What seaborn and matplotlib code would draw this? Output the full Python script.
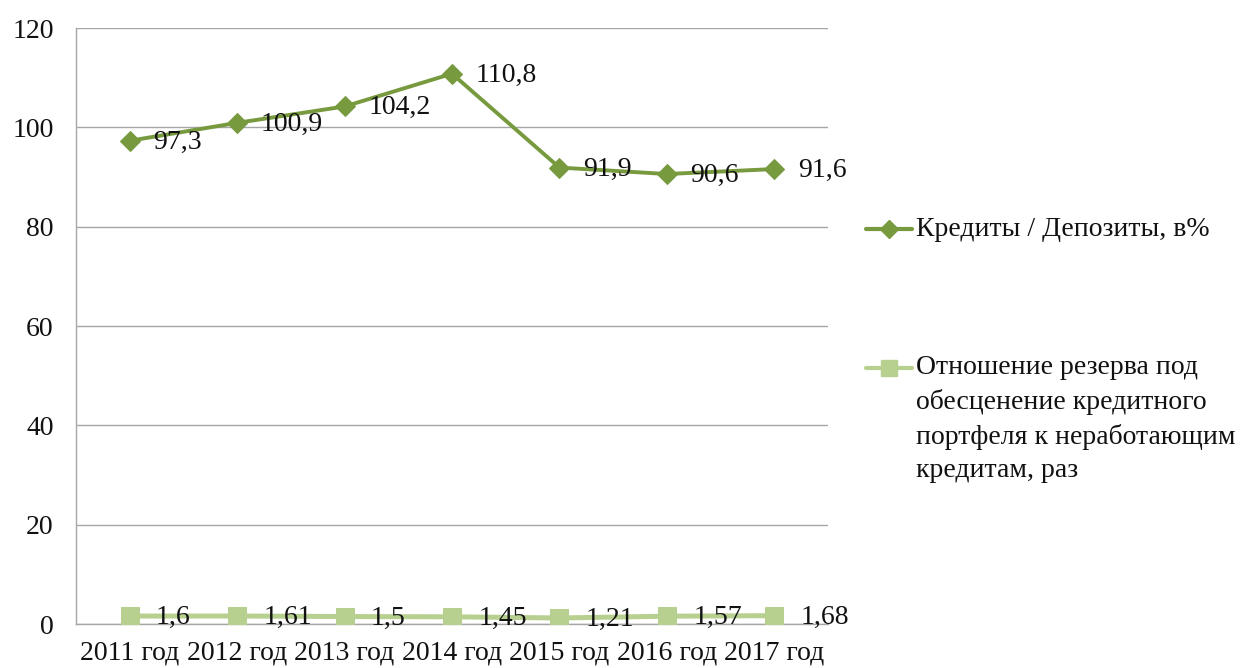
import matplotlib
matplotlib.use("Agg")
import matplotlib.pyplot as plt
from matplotlib.lines import Line2D
import seaborn as sns
import pandas as pd
import numpy as np

years = ["2011 год", "2012 год", "2013 год", "2014 год", "2015 год", "2016 год", "2017 год"]
loans_deposits = [97.3, 100.9, 104.2, 110.8, 91.9, 90.6, 91.6]
reserve_ratio = [1.6, 1.61, 1.5, 1.45, 1.21, 1.57, 1.68]
labels1 = ["97,3", "100,9", "104,2", "110,8", "91,9", "90,6", "91,6"]
labels2 = ["1,6", "1,61", "1,5", "1,45", "1,21", "1,57", "1,68"]
name1 = "Кредиты / Депозиты, в%"
name2_lines = ["Отношение резерва под", "обесценение кредитного",
               "портфеля к неработающим", "кредитам, раз"]

sns.set_theme(style="white")
plt.rcParams['font.family'] = ['Liberation Serif', 'DejaVu Serif']

c1 = "#789A3F"
c2 = "#B8D08F"
FS = 20
TXT = "#111111"

fig = plt.figure(figsize=(12.51, 6.68), dpi=100)
ax = fig.add_axes([76/1251, 1 - 624/668, (828-76)/1251, (624-28)/668])

x = np.arange(len(years))
df1 = pd.DataFrame({"x": x, "y": loans_deposits})
df2 = pd.DataFrame({"x": x, "y": reserve_ratio})
sns.lineplot(data=df1, x="x", y="y", ax=ax, color=c1, linewidth=2.8,
             marker="D", markersize=10, markeredgecolor=c1, zorder=4)
sns.lineplot(data=df2, x="x", y="y", ax=ax, color=c2, linewidth=3.6,
             marker="s", markersize=13, markeredgecolor=c2, zorder=3)

for xi, yi, t in zip(x, loans_deposits, labels1):
    ax.annotate(t, (xi, yi), xytext=(17, -1), textcoords="offset points",
                ha="left", va="center", fontsize=FS, color=TXT, zorder=5)
for xi, yi, t in zip(x, reserve_ratio, labels2):
    ax.annotate(t, (xi, yi), xytext=(19, -1), textcoords="offset points",
                ha="left", va="center", fontsize=FS, color=TXT, zorder=5)

ax.set_xlim(-0.5, 6.5)
ax.set_ylim(0, 120)
ax.set_yticks(range(0, 121, 20))
ax.set_xticks(x)
ax.set_xticklabels(years, fontsize=FS, color=TXT)
for lbl in ax.get_yticklabels():
    lbl.set_color(TXT)
ax.tick_params(axis="y", labelsize=FS, length=6, color="#A6A6A6", width=1, pad=10)
ax.tick_params(axis="x", length=0, pad=12)
ax.set_xlabel("")
ax.set_ylabel("")
ax.grid(axis="y", color="#A6A6A6", linewidth=1)
ax.grid(axis="x", visible=False)
for s in ["top", "right"]:
    ax.spines[s].set_visible(False)
ax.spines["left"].set_color("#A6A6A6")
ax.spines["bottom"].set_color("#A6A6A6")
ax.spines["left"].set_linewidth(1)
ax.spines["bottom"].set_linewidth(1)
# category boundary tick marks
ax.set_xticks(np.arange(-0.5, 7.0, 1.0), minor=True)
ax.tick_params(axis="x", which="minor", length=5, color="#A6A6A6", width=1, direction="out")

# legend (drawn in figure coordinates)
W, H = 1251, 668
def fy(py):
    return 1 - py / H
for (py, col, mk, ms) in [(229, c1, "D", 9), (368, c2, "s", 12)]:
    fig.add_artist(Line2D([866/W, 912/W], [fy(py), fy(py)], color=col, linewidth=3,
                          transform=fig.transFigure))
    fig.add_artist(Line2D([889/W], [fy(py)], color=col, marker=mk, markersize=ms,
                          markeredgecolor=col, transform=fig.transFigure))
fig.text(916/W, fy(229), name1, fontsize=FS, va="center", ha="left", color=TXT)
for i, line in enumerate(name2_lines):
    fig.text(916/W, fy(368 + i * 34.3), line, fontsize=FS, va="center", ha="left", color=TXT)

fig.savefig("out.png", dpi=100)
